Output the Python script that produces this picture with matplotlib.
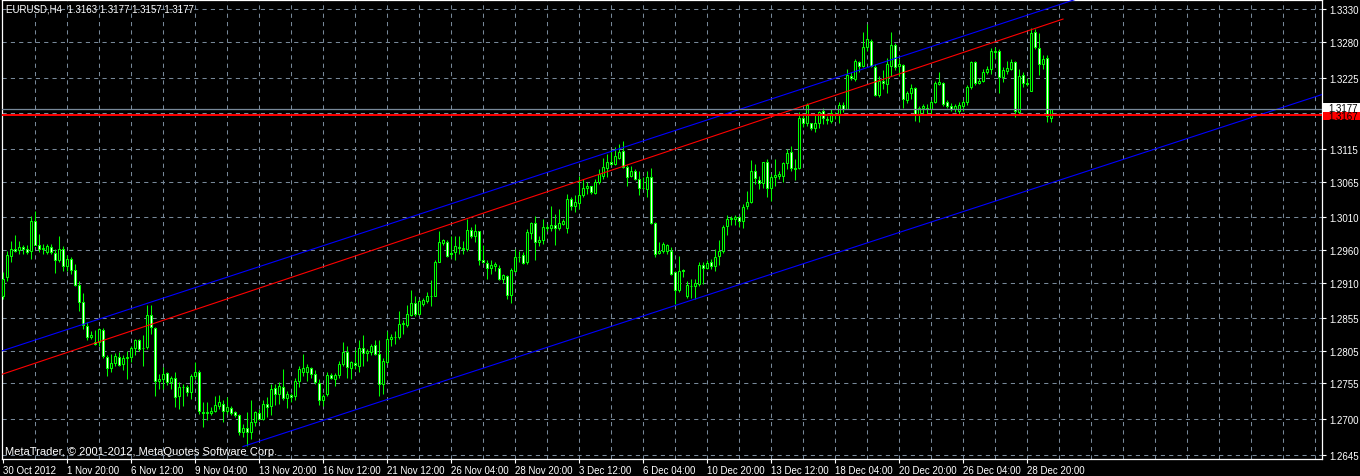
import numpy as np
import matplotlib
matplotlib.use("Agg")
import matplotlib.pyplot as plt
from matplotlib.patches import Rectangle
from matplotlib.transforms import blended_transform_factory

plt.rcParams['font.family'] = ['Liberation Sans', 'DejaVu Sans']

SYMBOL = "EURUSD,H4"
COPYRIGHT = "MetaTrader, \u00a9 2001-2012, MetaQuotes Software Corp."

# H4 bars, 30 Oct 2012 04:00 .. 31 Dec 2012
opens = [
    1.2890, 1.2918, 1.2951, 1.2962, 1.2960, 1.2964, 1.2962, 1.2958, 1.3005, 1.2968,
    1.2961, 1.2957, 1.2965, 1.2955, 1.2944, 1.2962, 1.2936, 1.2946, 1.2929, 1.2906,
    1.2880, 1.2843, 1.2826, 1.2818, 1.2818, 1.2837, 1.2796, 1.2778, 1.2786, 1.2795,
    1.2785, 1.2794, 1.2795, 1.2809, 1.2821, 1.2809, 1.2811, 1.2860, 1.2840, 1.2759,
    1.2762, 1.2771, 1.2757, 1.2763, 1.2735, 1.2749, 1.2750, 1.2742, 1.2766, 1.2772,
    1.2711, 1.2710, 1.2709, 1.2713, 1.2720, 1.2724, 1.2712, 1.2717, 1.2711, 1.2706,
    1.2680, 1.2686, 1.2680, 1.2696, 1.2709, 1.2700, 1.2723, 1.2720, 1.2748, 1.2739,
    1.2749, 1.2733, 1.2737, 1.2736, 1.2758, 1.2773, 1.2773, 1.2778, 1.2769, 1.2756,
    1.2730, 1.2739, 1.2768, 1.2762, 1.2768, 1.2785, 1.2803, 1.2779, 1.2786, 1.2782,
    1.2809, 1.2801, 1.2804, 1.2814, 1.2800, 1.2754, 1.2788, 1.2823, 1.2826, 1.2826,
    1.2846, 1.2844, 1.2860, 1.2879, 1.2862, 1.2877, 1.2882, 1.2889, 1.2890, 1.2942,
    1.2971, 1.2972, 1.2955, 1.2957, 1.2964, 1.2961, 1.2961, 1.2991, 1.2981, 1.2989,
    1.2944, 1.2940, 1.2933, 1.2935, 1.2933, 1.2915, 1.2920, 1.2891, 1.2928, 1.2949,
    1.2952, 1.2942, 1.2986, 1.3002, 1.2973, 1.2975, 1.2994, 1.2994, 1.2999, 1.2994,
    1.3000, 1.2994, 1.3038, 1.3028, 1.3032, 1.3044, 1.3056, 1.3058, 1.3047, 1.3064,
    1.3074, 1.3086, 1.3096, 1.3092, 1.3102, 1.3112, 1.3087, 1.3074, 1.3081, 1.3069,
    1.3055, 1.3054, 1.3073, 1.3001, 1.2955, 1.2958, 1.2958, 1.2959, 1.2926, 1.2898,
    1.2929, 1.2890, 1.2905, 1.2905, 1.2908, 1.2937, 1.2932, 1.2941, 1.2935, 1.2951,
    1.2958, 1.2997, 1.3007, 1.3008, 1.3010, 1.3004, 1.3027, 1.3034, 1.3081, 1.3068,
    1.3063, 1.3096, 1.3055, 1.3073, 1.3074, 1.3074, 1.3093, 1.3110, 1.3086, 1.3086,
    1.3163, 1.3156, 1.3155, 1.3147, 1.3155, 1.3173, 1.3161, 1.3159, 1.3169, 1.3168,
    1.3183, 1.3177, 1.3228, 1.3223, 1.3249, 1.3243, 1.3272, 1.3282, 1.3241, 1.3198,
    1.3220, 1.3215, 1.3243, 1.3275, 1.3243, 1.3244, 1.3190, 1.3201, 1.3209, 1.3169,
    1.3178, 1.3179, 1.3177, 1.3188, 1.3215, 1.3217, 1.3187, 1.3182, 1.3177, 1.3173,
    1.3181, 1.3187, 1.3210, 1.3249, 1.3217, 1.3220, 1.3234, 1.3239, 1.3266, 1.3266,
    1.3226, 1.3235, 1.3239, 1.3249, 1.3172, 1.3229, 1.3217, 1.3205, 1.3295, 1.3270,
    1.3246, 1.3255, 1.3163,
]
highs = [
    1.2926, 1.2959, 1.2974, 1.2983, 1.2974, 1.2968, 1.2967, 1.3012, 1.3020, 1.2985,
    1.2969, 1.2969, 1.2969, 1.2962, 1.2982, 1.2966, 1.2952, 1.2949, 1.2938, 1.2913,
    1.2894, 1.2850, 1.2835, 1.2837, 1.2840, 1.2840, 1.2799, 1.2800, 1.2802, 1.2803,
    1.2798, 1.2805, 1.2813, 1.2824, 1.2823, 1.2829, 1.2875, 1.2876, 1.2841, 1.2770,
    1.2780, 1.2773, 1.2767, 1.2772, 1.2757, 1.2754, 1.2752, 1.2770, 1.2788, 1.2775,
    1.2726, 1.2726, 1.2718, 1.2735, 1.2737, 1.2729, 1.2734, 1.2720, 1.2713, 1.2708,
    1.2693, 1.2711, 1.2729, 1.2713, 1.2716, 1.2729, 1.2734, 1.2754, 1.2754, 1.2757,
    1.2777, 1.2744, 1.2741, 1.2764, 1.2782, 1.2800, 1.2785, 1.2780, 1.2775, 1.2762,
    1.2739, 1.2772, 1.2771, 1.2771, 1.2789, 1.2819, 1.2813, 1.2790, 1.2808, 1.2822,
    1.2829, 1.2808, 1.2816, 1.2821, 1.2821, 1.2794, 1.2835, 1.2831, 1.2836, 1.2867,
    1.2852, 1.2876, 1.2899, 1.2890, 1.2885, 1.2886, 1.2896, 1.2914, 1.2944, 1.2990,
    1.2977, 1.2976, 1.2981, 1.2982, 1.2982, 1.2974, 1.3007, 1.2995, 1.3000, 1.2990,
    1.2968, 1.2944, 1.2944, 1.2942, 1.2937, 1.2923, 1.2921, 1.2932, 1.2962, 1.2958,
    1.2957, 1.2993, 1.3003, 1.3012, 1.2981, 1.3007, 1.3000, 1.3027, 1.3015, 1.3023,
    1.3008, 1.3046, 1.3041, 1.3045, 1.3074, 1.3069, 1.3064, 1.3059, 1.3069, 1.3085,
    1.3102, 1.3108, 1.3114, 1.3118, 1.3123, 1.3127, 1.3090, 1.3089, 1.3084, 1.3082,
    1.3072, 1.3082, 1.3086, 1.3003, 1.2972, 1.2972, 1.2969, 1.2964, 1.2928, 1.2951,
    1.2931, 1.2913, 1.2916, 1.2916, 1.2941, 1.2941, 1.2944, 1.2946, 1.2962, 1.2975,
    1.2998, 1.3014, 1.3013, 1.3014, 1.3013, 1.3031, 1.3051, 1.3098, 1.3092, 1.3074,
    1.3096, 1.3100, 1.3077, 1.3100, 1.3082, 1.3095, 1.3115, 1.3120, 1.3100, 1.3172,
    1.3167, 1.3186, 1.3156, 1.3167, 1.3174, 1.3178, 1.3166, 1.3176, 1.3172, 1.3188,
    1.3187, 1.3238, 1.3234, 1.3254, 1.3251, 1.3295, 1.3307, 1.3284, 1.3246, 1.3227,
    1.3236, 1.3255, 1.3295, 1.3278, 1.3254, 1.3246, 1.3205, 1.3215, 1.3210, 1.3182,
    1.3185, 1.3185, 1.3190, 1.3220, 1.3234, 1.3218, 1.3190, 1.3186, 1.3185, 1.3187,
    1.3190, 1.3213, 1.3251, 1.3251, 1.3224, 1.3238, 1.3243, 1.3270, 1.3272, 1.3269,
    1.3241, 1.3250, 1.3254, 1.3250, 1.3238, 1.3233, 1.3224, 1.3301, 1.3300, 1.3294,
    1.3259, 1.3260, 1.3177,
]
lows = [
    1.2885, 1.2913, 1.2941, 1.2957, 1.2954, 1.2954, 1.2954, 1.2946, 1.2967, 1.2957,
    1.2954, 1.2954, 1.2954, 1.2925, 1.2941, 1.2928, 1.2928, 1.2923, 1.2905, 1.2867,
    1.2839, 1.2821, 1.2823, 1.2814, 1.2813, 1.2794, 1.2767, 1.2772, 1.2782, 1.2782,
    1.2775, 1.2762, 1.2788, 1.2798, 1.2805, 1.2782, 1.2808, 1.2831, 1.2735, 1.2747,
    1.2746, 1.2752, 1.2747, 1.2718, 1.2716, 1.2721, 1.2736, 1.2731, 1.2762, 1.2708,
    1.2688, 1.2699, 1.2706, 1.2711, 1.2716, 1.2696, 1.2708, 1.2706, 1.2703, 1.2675,
    1.2672, 1.2659, 1.2670, 1.2689, 1.2698, 1.2698, 1.2703, 1.2706, 1.2722, 1.2723,
    1.2729, 1.2717, 1.2726, 1.2730, 1.2749, 1.2767, 1.2759, 1.2764, 1.2754, 1.2722,
    1.2721, 1.2736, 1.2762, 1.2751, 1.2764, 1.2782, 1.2764, 1.2762, 1.2777, 1.2773,
    1.2782, 1.2790, 1.2799, 1.2798, 1.2735, 1.2739, 1.2785, 1.2813, 1.2816, 1.2824,
    1.2831, 1.2841, 1.2859, 1.2859, 1.2860, 1.2874, 1.2879, 1.2874, 1.2889, 1.2941,
    1.2968, 1.2949, 1.2947, 1.2945, 1.2954, 1.2954, 1.2958, 1.2978, 1.2972, 1.2937,
    1.2940, 1.2915, 1.2923, 1.2928, 1.2914, 1.2909, 1.2885, 1.2879, 1.2926, 1.2941,
    1.2939, 1.2939, 1.2977, 1.2944, 1.2966, 1.2969, 1.2990, 1.2990, 1.2967, 1.2991,
    1.2998, 1.2986, 1.3021, 1.3018, 1.3023, 1.3041, 1.3046, 1.3046, 1.3046, 1.3062,
    1.3069, 1.3072, 1.3091, 1.3091, 1.3100, 1.3086, 1.3058, 1.3072, 1.3067, 1.3044,
    1.3054, 1.3041, 1.3000, 1.2949, 1.2954, 1.2956, 1.2954, 1.2921, 1.2877, 1.2895,
    1.2918, 1.2887, 1.2887, 1.2884, 1.2905, 1.2908, 1.2931, 1.2931, 1.2927, 1.2937,
    1.2956, 1.2983, 1.2999, 1.2999, 1.2995, 1.2994, 1.3023, 1.3033, 1.3062, 1.3054,
    1.3055, 1.3041, 1.3036, 1.3058, 1.3069, 1.3065, 1.3085, 1.3082, 1.3067, 1.3085,
    1.3149, 1.3151, 1.3144, 1.3142, 1.3147, 1.3154, 1.3154, 1.3155, 1.3161, 1.3156,
    1.3172, 1.3176, 1.3222, 1.3220, 1.3233, 1.3242, 1.3266, 1.3241, 1.3196, 1.3195,
    1.3208, 1.3201, 1.3227, 1.3236, 1.3227, 1.3178, 1.3186, 1.3192, 1.3159, 1.3157,
    1.3167, 1.3169, 1.3169, 1.3186, 1.3213, 1.3182, 1.3179, 1.3174, 1.3172, 1.3169,
    1.3174, 1.3183, 1.3208, 1.3214, 1.3215, 1.3219, 1.3231, 1.3231, 1.3255, 1.3201,
    1.3218, 1.3231, 1.3236, 1.3164, 1.3169, 1.3210, 1.3212, 1.3205, 1.3269, 1.3229,
    1.3238, 1.3157, 1.3157,
]
closes = [
    1.2916, 1.2952, 1.2962, 1.2959, 1.2965, 1.2962, 1.2957, 1.3005, 1.2968, 1.2961,
    1.2963, 1.2966, 1.2957, 1.2944, 1.2962, 1.2935, 1.2946, 1.2930, 1.2907, 1.2880,
    1.2845, 1.2826, 1.2830, 1.2816, 1.2839, 1.2797, 1.2778, 1.2786, 1.2797, 1.2784,
    1.2794, 1.2795, 1.2809, 1.2821, 1.2808, 1.2810, 1.2860, 1.2841, 1.2759, 1.2762,
    1.2770, 1.2757, 1.2763, 1.2734, 1.2749, 1.2750, 1.2742, 1.2766, 1.2773, 1.2713,
    1.2710, 1.2711, 1.2713, 1.2722, 1.2726, 1.2713, 1.2718, 1.2710, 1.2706, 1.2681,
    1.2686, 1.2681, 1.2695, 1.2711, 1.2700, 1.2723, 1.2718, 1.2746, 1.2739, 1.2751,
    1.2732, 1.2738, 1.2734, 1.2759, 1.2777, 1.2778, 1.2780, 1.2769, 1.2757, 1.2730,
    1.2735, 1.2768, 1.2763, 1.2768, 1.2785, 1.2804, 1.2780, 1.2788, 1.2783, 1.2809,
    1.2801, 1.2805, 1.2813, 1.2800, 1.2754, 1.2790, 1.2823, 1.2827, 1.2827, 1.2846,
    1.2848, 1.2862, 1.2879, 1.2862, 1.2881, 1.2883, 1.2889, 1.2890, 1.2941, 1.2973,
    1.2975, 1.2951, 1.2954, 1.2966, 1.2963, 1.2963, 1.2991, 1.2981, 1.2990, 1.2944,
    1.2941, 1.2932, 1.2937, 1.2939, 1.2916, 1.2922, 1.2891, 1.2930, 1.2949, 1.2950,
    1.2940, 1.2987, 1.3002, 1.2973, 1.2976, 1.2995, 1.2996, 1.2999, 1.2994, 1.3001,
    1.3005, 1.3039, 1.3027, 1.3034, 1.3045, 1.3056, 1.3058, 1.3049, 1.3065, 1.3077,
    1.3087, 1.3096, 1.3092, 1.3104, 1.3110, 1.3087, 1.3073, 1.3082, 1.3069, 1.3055,
    1.3056, 1.3073, 1.3002, 1.2954, 1.2958, 1.2969, 1.2968, 1.2923, 1.2898, 1.2928,
    1.2928, 1.2906, 1.2904, 1.2909, 1.2937, 1.2932, 1.2940, 1.2936, 1.2949, 1.2959,
    1.2995, 1.3008, 1.3009, 1.3010, 1.3004, 1.3026, 1.3034, 1.3082, 1.3070, 1.3063,
    1.3095, 1.3055, 1.3073, 1.3076, 1.3077, 1.3093, 1.3109, 1.3086, 1.3084, 1.3163,
    1.3156, 1.3183, 1.3147, 1.3155, 1.3172, 1.3163, 1.3160, 1.3170, 1.3167, 1.3183,
    1.3176, 1.3229, 1.3224, 1.3250, 1.3243, 1.3272, 1.3284, 1.3243, 1.3198, 1.3220,
    1.3217, 1.3246, 1.3275, 1.3242, 1.3246, 1.3192, 1.3201, 1.3209, 1.3169, 1.3179,
    1.3182, 1.3177, 1.3187, 1.3217, 1.3219, 1.3185, 1.3181, 1.3177, 1.3182, 1.3183,
    1.3187, 1.3210, 1.3249, 1.3216, 1.3220, 1.3234, 1.3238, 1.3266, 1.3264, 1.3226,
    1.3236, 1.3240, 1.3249, 1.3173, 1.3227, 1.3217, 1.3215, 1.3294, 1.3272, 1.3246,
    1.3254, 1.3166, 1.3177,
]

# one label every 16 bars
time_labels = [
    "30 Oct 2012", "1 Nov 20:00", "6 Nov 12:00", "9 Nov 04:00", "13 Nov 20:00",
    "16 Nov 12:00", "21 Nov 12:00", "26 Nov 04:00", "28 Nov 20:00", "3 Dec 12:00",
    "6 Dec 04:00", "10 Dec 20:00", "13 Dec 12:00", "18 Dec 04:00", "20 Dec 20:00",
    "26 Dec 04:00", "28 Dec 20:00",
]
price_ticks = [1.2645, 1.2700, 1.2755, 1.2805, 1.2855, 1.2910, 1.2960,
               1.3010, 1.3065, 1.3115, 1.3170, 1.3225, 1.3280, 1.3330]
hidden_tick = 1.3170

# drawn objects: anchors as (bar index, price)
channel_top_bars = [-0.75, 268.0]
channel_top_prices = [1.2804, 1.3345]
channel_bottom_bars = [60.0, 329.75]
channel_bottom_prices = [1.2658, 1.3199]
trend_bars = [-0.75, 265.0]
trend_prices = [1.2768, 1.3315]
bid_price = 1.3177
level_price = 1.3167

GRID = "#778899"
CANDLE = "#00ff00"
FS = 7.0

opens = np.array(opens)
highs = np.array(highs)
lows = np.array(lows)
closes = np.array(closes)
x = np.arange(len(opens))

fig = plt.figure(figsize=(13.6, 4.77), dpi=100, facecolor="black")
ax = fig.add_axes([2 / 1360, 17 / 477, 1320 / 1360, 459 / 477], facecolor="black")
ax.set_xlim(-0.25, 329.75)
ax.set_ylim(1.26388, 1.33443)

# dashed grid
for gx in range(8, 330, 8):
    ax.axvline(gx, color=GRID, lw=0.75, ls=(0, (4, 4)), zorder=1)
for gy in price_ticks:
    ax.axhline(gy, color=GRID, lw=0.75, ls=(0, (4, 4)), zorder=1)

# candles
ax.vlines(x, lows, highs, color=CANDLE, lw=0.75, zorder=3)
body_low = np.minimum(opens, closes)
body_h = np.maximum(np.abs(closes - opens), 0.00002)
fills = np.where(closes >= opens, "black", "white")
ax.bar(x, body_h, bottom=body_low, width=0.5, color=fills,
       edgecolor=CANDLE, linewidth=0.75, zorder=4)

# objects on the chart
ax.plot(channel_top_bars, channel_top_prices, color="#0000ff", lw=0.8, zorder=5)
ax.plot(channel_bottom_bars, channel_bottom_prices, color="#0000ff", lw=0.8, zorder=5)
ax.plot(trend_bars, trend_prices, color="#ff0000", lw=0.8, zorder=5)
ax.axhline(bid_price, color=GRID, lw=0.9, zorder=5)
ax.axhline(level_price, color="#ff0000", lw=1.4, zorder=6)

for side in ax.spines.values():
    side.set_color("white")
    side.set_linewidth(0.9)

ax.yaxis.tick_right()
ax.set_yticks(price_ticks)
ax.set_yticklabels(["" if p == hidden_tick else f"{p:.4f}" for p in price_ticks])
ax.set_xticks(np.arange(len(time_labels)) * 16)
ax.set_xticklabels(time_labels, ha="left")
ax.tick_params(colors="white", labelcolor="white", labelsize=FS, length=3,
               width=0.8, pad=2)
ax.tick_params(axis="x", pad=1.5)

# price boxes on the right scale
tr = blended_transform_factory(ax.transAxes, ax.transData)
box_h = 0.00138
ax.add_patch(Rectangle((1.0008, bid_price - box_h / 2 + 0.0002), 0.03, box_h,
                       transform=tr, facecolor="white", edgecolor="none",
                       clip_on=False, zorder=7))
ax.text(1.005, bid_price + 0.0002, f"{bid_price:.4f}", transform=tr, ha="left",
        va="center", color="black", fontsize=FS, clip_on=False, zorder=8)
ax.add_patch(Rectangle((1.0008, level_price - box_h / 2 - 0.0001), 0.03, box_h,
                       transform=tr, facecolor="#ff0000", edgecolor="none",
                       clip_on=False, zorder=9))
ax.text(1.005, level_price - 0.0001, f"{level_price:.4f}", transform=tr,
        ha="left", va="center", color="black", fontsize=FS, clip_on=False,
        zorder=10)

header = f"{SYMBOL}  {opens[-1]:.4f} {highs[-1]:.4f} {lows[-1]:.4f} {closes[-1]:.4f}"
fig.text(6 / 1360, 1 - 10 / 477, header, color="white", fontsize=FS, va="center")
fig.text(5 / 1360, 1 - 452 / 477, COPYRIGHT, color="white", fontsize=8.0, va="center")

fig.savefig("out.png", dpi=100, facecolor="black")
